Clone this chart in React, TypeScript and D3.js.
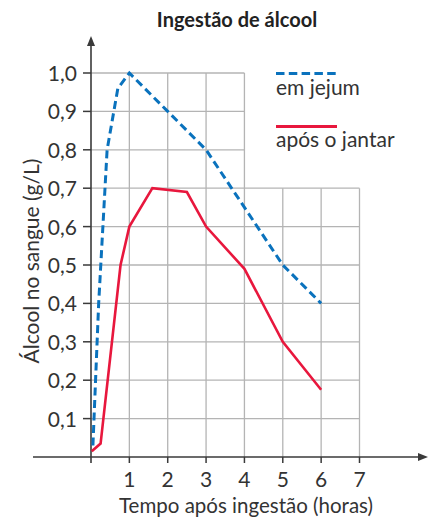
import React from "react";
import * as d3 from "d3";

const title = "Ingestão de álcool";
const xTicks = [1, 2, 3, 4, 5, 6, 7];
const yTicks = [0.1, 0.2, 0.3, 0.4, 0.5, 0.6, 0.7, 0.8, 0.9, 1.0];
const yTickLabels = ["0,1", "0,2", "0,3", "0,4", "0,5", "0,6", "0,7", "0,8", "0,9", "1,0"];
const jejumHours = [0.05, 0.2, 0.42, 0.7, 1, 2, 3, 4, 5, 6];
const jejumValues = [0.03, 0.4, 0.8, 0.96, 1.0, 0.9, 0.8, 0.65, 0.5, 0.4];
const jantarHours = [0.02, 0.25, 0.77, 1, 1.6, 2.5, 3, 4, 5, 6];
const jantarValues = [0.015, 0.035, 0.5, 0.6, 0.7, 0.69, 0.6, 0.49, 0.3, 0.175];
const legendLabels = ["em jejum", "após o jantar"];

const BLUE = "#0a72bd";
const RED = "#e8173d";
const GRID = "#b4b4b4";
const AXIS = "#3a3a3a";
const TEXT = "#333333";
const FONT = "Lato, 'Open Sans', sans-serif";

export default function App() {
  const x = d3.scaleLinear().domain([0, 7]).range([91, 359.5]);
  const y = d3.scaleLinear().domain([0, 1]).range([457, 73]);
  const line = d3
    .line<[number, number]>()
    .x((d) => x(d[0]))
    .y((d) => y(d[1]));
  const jejum = jejumHours.map((h, i) => [h, jejumValues[i]] as [number, number]);
  const jantar = jantarHours.map((h, i) => [h, jantarValues[i]] as [number, number]);

  // grid: full 0..7 up to 0.7, 0..4 above
  const gridH = yTicks.map((v) => ({ v, xmax: v > 0.7 + 1e-9 ? 4 : 7 }));
  const gridV = xTicks.map((h) => ({ h, ymax: h > 4 ? 0.7 : 1.0 }));

  return (
    <svg
      width={428}
      height={521}
      style={{ position: "absolute", left: 0, top: 0, background: "#fff" }}
      fontFamily={FONT}
    >
      <rect width={428} height={521} fill="#fff" />
      <text x={237} y={27} textAnchor="middle" fontWeight="bold" fontSize={20} fill="#222">
        {title}
      </text>
      {/* grid */}
      {gridH.map((g) => (
        <line key={"h" + g.v} x1={x(0)} x2={x(g.xmax)} y1={y(g.v)} y2={y(g.v)} stroke={GRID} strokeWidth={1.3} />
      ))}
      {gridV.map((g) => (
        <line key={"v" + g.h} x1={x(g.h)} x2={x(g.h)} y1={y(0)} y2={y(g.ymax)} stroke={GRID} strokeWidth={1.3} />
      ))}
      {/* axes */}
      <line x1={33} x2={420} y1={y(0)} y2={y(0)} stroke={AXIS} strokeWidth={1.6} />
      <path d={`M428,${y(0)} L418,${y(0) - 4} L418,${y(0) + 4} Z`} fill={AXIS} />
      <line x1={x(0)} x2={x(0)} y1={y(0) + 6} y2={44} stroke={AXIS} strokeWidth={1.6} />
      <path d={`M${x(0)},36 L${x(0) - 4},46 L${x(0) + 4},46 Z`} fill={AXIS} />
      {xTicks.map((h) => (
        <g key={"xt" + h}>
          <line x1={x(h)} x2={x(h)} y1={y(0)} y2={y(0) + 6} stroke={AXIS} strokeWidth={1.5} />
          <text x={x(h)} y={487} textAnchor="middle" fontSize={21} fill={TEXT}>
            {h}
          </text>
        </g>
      ))}
      {yTicks.map((v, i) => (
        <g key={"yt" + v}>
          <line x1={x(0) - 8} x2={x(0)} y1={y(v)} y2={y(v)} stroke={AXIS} strokeWidth={1.5} />
          <text x={77} y={y(v) + 8} textAnchor="end" fontSize={21} fill={TEXT}>
            {yTickLabels[i]}
          </text>
        </g>
      ))}
      {/* axis titles */}
      <text x={246} y={513} textAnchor="middle" fontSize={20.5} fill={TEXT}>
        Tempo após ingestão (horas)
      </text>
      <text
        transform={`translate(39,261) rotate(-90)`}
        textAnchor="middle"
        fontSize={21}
        fill={TEXT}
      >
        Álcool no sangue (g/L)
      </text>
      {/* series */}
      <path d={line(jantar) || ""} fill="none" stroke={RED} strokeWidth={2.6} strokeLinejoin="miter" />
      <path d={line(jejum) || ""} fill="none" stroke={BLUE} strokeWidth={3} strokeDasharray="8,4.5" />
      {/* legend */}
      <line x1={276} x2={337} y1={73.5} y2={73.5} stroke={BLUE} strokeWidth={3} strokeDasharray="8.5,4.3" />
      <text x={276} y={95} fontSize={21} fill={TEXT}>
        {legendLabels[0]}
      </text>
      <line x1={276} x2={337} y1={126.5} y2={126.5} stroke={RED} strokeWidth={2.8} />
      <text x={276} y={147} fontSize={21} fill={TEXT}>
        {legendLabels[1]}
      </text>
    </svg>
  );
}
